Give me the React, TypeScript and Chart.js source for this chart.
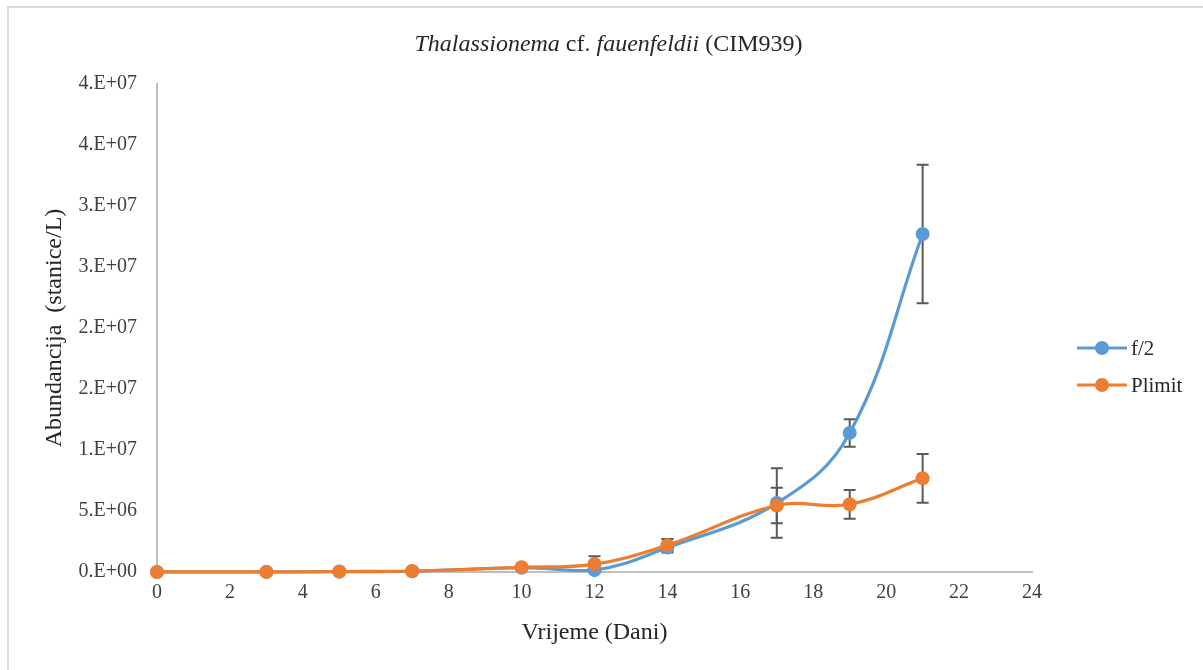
import React, { useEffect, useRef } from 'react';
import { Chart, registerables } from 'chart.js';

Chart.register(...registerables);

// ---- data ----
const days = [0, 3, 5, 7, 10, 12, 14, 17, 19, 21];
const f2Values = [5e3, 1e4, 3e4, 6e4, 3.5e5, 1.5e5, 2.0e6, 5.65e6, 1.14e7, 2.77e7];
const f2Errors = [0, 0, 0, 0, 0, 0, 4e5, 2.85e6, 1.13e6, 5.68e6];
const plimitValues = [5e3, 1e4, 4e4, 8e4, 3.9e5, 6.5e5, 2.2e6, 5.45e6, 5.55e6, 7.68e6];
const plimitErrors = [0, 0, 0, 0, 0, 6.5e5, 5e5, 1.45e6, 1.18e6, 2.0e6];
const seriesNames = ['f/2', 'Plimit'];
const seriesColors = ['#5B9BD5', '#ED7D31'];
const xMin = 0;
const xMax = 24;
const xStep = 2;
const yMin = 0;
const yMax = 4e7;
const yStep = 5e6;
const xTitle = 'Vrijeme (Dani)';
const yTitle = 'Abundancija  (stanice/L)';
const titleParts = [
  { text: 'Thalassionema', italic: true },
  { text: ' cf. ', italic: false },
  { text: 'fauenfeldii', italic: true },
  { text: ' (CIM939)', italic: false },
];

const FONT = '"Liberation Serif", "Times New Roman", serif';

function fmtExp(v: number): string {
  const s = Number(v).toExponential(0);
  const [m, e] = s.split('e');
  const sign = e[0];
  const digits = e.slice(1).padStart(2, '0');
  return `${m}.E${sign}${digits}`;
}

const errorBarPlugin = {
  id: 'errorBars',
  beforeDatasetsDraw(chart: any) {
    const { ctx, scales } = chart;
    const xs = scales.x;
    const ys = scales.y;
    ctx.save();
    ctx.strokeStyle = '#595959';
    ctx.lineWidth = 2;
    chart.data.datasets.forEach((ds: any) => {
      const errs: number[] = ds.errors || [];
      ds.data.forEach((pt: any, i: number) => {
        const e = errs[i];
        if (!e) return;
        const px = xs.getPixelForValue(pt.x);
        const top = ys.getPixelForValue(pt.y + e);
        const bot = ys.getPixelForValue(pt.y - e);
        const cap = 6;
        ctx.beginPath();
        ctx.moveTo(px, top);
        ctx.lineTo(px, bot);
        ctx.moveTo(px - cap, top);
        ctx.lineTo(px + cap, top);
        ctx.moveTo(px - cap, bot);
        ctx.lineTo(px + cap, bot);
        ctx.stroke();
      });
    });
    ctx.restore();
  },
};

const titlePlugin = {
  id: 'mixedTitle',
  afterDraw(chart: any) {
    const { ctx } = chart;
    ctx.save();
    ctx.fillStyle = '#262626';
    ctx.textBaseline = 'middle';
    ctx.textAlign = 'left';
    const fontOf = (it: boolean) => `${it ? 'italic ' : ''}24px ${FONT}`;
    let total = 0;
    const widths = titleParts.map((p) => {
      ctx.font = fontOf(p.italic);
      const w = ctx.measureText(p.text).width;
      total += w;
      return w;
    });
    let x = chart.width / 2 + 7 - total / 2;
    const y = 45;
    titleParts.forEach((p, i) => {
      ctx.font = fontOf(p.italic);
      ctx.fillText(p.text, x, y);
      x += widths[i];
    });
    ctx.restore();
  },
};

const legendPlugin = {
  id: 'sideLegend',
  afterDraw(chart: any) {
    const { ctx, chartArea } = chart;
    const x0 = chartArea.right + 45;
    const yMid = (chartArea.top + chartArea.bottom) / 2;
    const y0 = yMid + 20;
    const gap = 37;
    ctx.save();
    chart.data.datasets.forEach((ds: any, i: number) => {
      const y = y0 + i * gap;
      ctx.strokeStyle = ds.borderColor;
      ctx.lineWidth = 3;
      ctx.beginPath();
      ctx.moveTo(x0, y);
      ctx.lineTo(x0 + 50, y);
      ctx.stroke();
      ctx.fillStyle = ds.pointBackgroundColor;
      ctx.beginPath();
      ctx.arc(x0 + 25, y, 7, 0, Math.PI * 2);
      ctx.fill();
      ctx.fillStyle = '#262626';
      ctx.font = `21px ${FONT}`;
      ctx.textBaseline = 'middle';
      ctx.textAlign = 'left';
      ctx.fillText(ds.label, x0 + 54, y + 1);
    });
    ctx.restore();
  },
};

export default function App() {
  const ref = useRef<HTMLCanvasElement | null>(null);

  useEffect(() => {
    if (!ref.current) return;
    const mk = (vals: number[]) => days.map((d, i) => ({ x: d, y: vals[i] }));
    const common = {
      borderWidth: 3.2,
      pointRadius: 7,
      pointBorderWidth: 0,
      tension: 0.4,
      clip: false,
    };
    const chart = new Chart(ref.current, {
      type: 'line',
      data: {
        datasets: [
          {
            label: seriesNames[0],
            data: mk(f2Values),
            errors: f2Errors,
            borderColor: seriesColors[0],
            backgroundColor: seriesColors[0],
            pointBackgroundColor: seriesColors[0],
            pointBorderColor: seriesColors[0],
            order: 1,
            ...common,
          } as any,
          {
            label: seriesNames[1],
            data: mk(plimitValues),
            errors: plimitErrors,
            borderColor: seriesColors[1],
            backgroundColor: seriesColors[1],
            pointBackgroundColor: seriesColors[1],
            pointBorderColor: seriesColors[1],
            order: 0,
            ...common,
          } as any,
        ],
      },
      options: {
        animation: false,
        responsive: false,
        devicePixelRatio: 1,
        layout: { padding: { left: 0, top: 84, right: 171, bottom: 0 } },
        plugins: {
          legend: { display: false },
          title: { display: false },
          tooltip: { enabled: false },
        },
        scales: {
          x: {
            type: 'linear',
            min: xMin,
            max: xMax,
            ticks: {
              stepSize: xStep,
              font: { family: FONT, size: 20 },
              color: '#404040',
              padding: 1,
              maxRotation: 0,
            },
            grid: { display: false },
            border: { display: true, color: '#bfbfbf', width: 2 },
            title: {
              display: true,
              text: xTitle,
              font: { family: FONT, size: 24 },
              color: '#262626',
              padding: { top: 0, bottom: 23 },
            },
            afterFit(s: any) {
              s.height = 98;
            },
          },
          y: {
            type: 'linear',
            min: yMin,
            max: yMax,
            ticks: {
              stepSize: yStep,
              font: { family: FONT, size: 20 },
              color: '#404040',
              padding: 12,
              callback: (v: any) => fmtExp(Number(v)),
            },
            grid: { display: false },
            border: { display: true, color: '#bfbfbf', width: 2 },
            title: {
              display: true,
              text: yTitle,
              font: { family: FONT, size: 24 },
              color: '#262626',
              padding: { top: 40, bottom: 0 },
            },
            afterFit(s: any) {
              s.width = 157;
            },
          },
        },
      } as any,
      plugins: [errorBarPlugin, titlePlugin, legendPlugin],
    });
    return () => chart.destroy();
  }, []);

  return (
    <>
      <div
        style={{
          position: 'absolute',
          left: 7,
          top: 6,
          width: 1196,
          height: 664,
          boxSizing: 'border-box',
          borderLeft: '2px solid #d9d9d9',
          borderTop: '2px solid #d9d9d9',
        }}
      />
      <canvas
        ref={ref}
        width={1203}
        height={670}
        style={{ position: 'absolute', left: 0, top: 0, width: 1203, height: 670 }}
      />
    </>
  );
}
